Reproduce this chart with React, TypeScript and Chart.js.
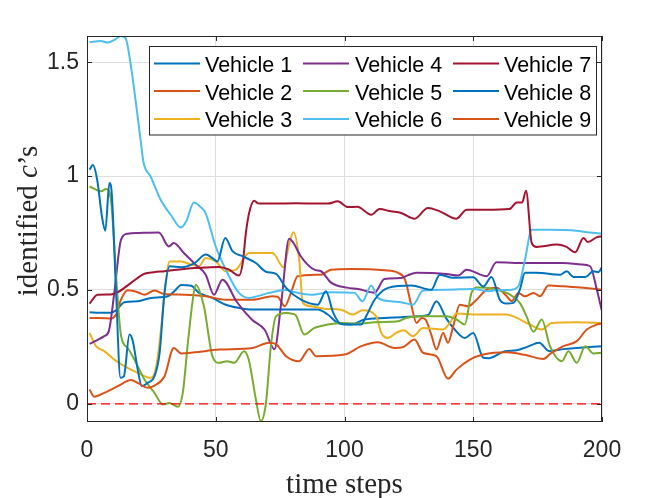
import { useEffect, useRef } from 'react';
import { Chart, registerables } from 'chart.js';

Chart.register(...registerables);

type Pt = [number, number];

// [time step, identified c]
const vehicle1: Pt[] = [
  [1, 0.402], [5, 0.4], [9.3, 0.4], [11.3, 0.41], [14.5, 0.446], [19.7, 0.45], [24.9, 0.465],
  [31.4, 0.472], [34, 0.495], [36.6, 0.522], [40.5, 0.518], [43.5, 0.487], [48.7, 0.465],
  [53.9, 0.435], [59, 0.421], [64.3, 0.414], [72, 0.414], [81, 0.414], [89.6, 0.414],
  [93.5, 0.392], [97.4, 0.355], [102.6, 0.348], [107.8, 0.37], [115.5, 0.377], [122, 0.38],
  [128.6, 0.384], [132.5, 0.39], [135.7, 0.45], [139.5, 0.375], [142.8, 0.326], [146.7, 0.289],
  [150, 0.311], [153.9, 0.202], [156, 0.2], [162.3, 0.231], [166.9, 0.235], [171, 0.25],
  [175.6, 0.268], [179.5, 0.231], [185, 0.24], [190, 0.245], [200, 0.253],
];
const vehicle2: Pt[] = [
  [1, 0.377], [9.3, 0.375], [11.3, 0.392], [13.2, 0.457], [15.8, 0.498], [19.7, 0.49],
  [22.3, 0.479], [26.2, 0.497], [30.1, 0.482], [38, 0.479], [46.1, 0.472], [53.9, 0.457],
  [64.3, 0.457], [72.1, 0.472], [74, 0.47], [76.8, 0.428], [79.2, 0.487], [81.8, 0.56],
  [90.9, 0.567], [94.8, 0.589], [102.6, 0.592], [115.5, 0.586], [120.8, 0.575], [123.5, 0.545],
  [126, 0.43], [128, 0.355], [130, 0.377], [131.5, 0.37], [133.7, 0.304], [135.7, 0.238],
  [138.3, 0.311], [140.2, 0.268], [142.2, 0.34], [144.8, 0.435], [148, 0.428], [151.3, 0.457],
  [155.2, 0.501], [159, 0.509], [163, 0.472], [164.9, 0.45], [167.5, 0.487], [170.1, 0.472],
  [173.4, 0.487], [175.9, 0.472], [179.2, 0.519], [185, 0.516], [192.8, 0.509], [200, 0.501],
];
const vehicle3: Pt[] = [
  [1, 0.311], [3.5, 0.253], [6.7, 0.231], [10.6, 0.194], [14.5, 0.165], [19.7, 0.136],
  [24.9, 0.114], [26.9, 0.165], [28.5, 0.3], [30.1, 0.487], [32.1, 0.625], [36.6, 0.625],
  [40.5, 0.611], [43.5, 0.604], [46.1, 0.64], [50, 0.625], [53.9, 0.582], [57.8, 0.589],
  [63, 0.662], [72.1, 0.662], [76.3, 0.6], [78.5, 0.7], [80.2, 0.753], [82.4, 0.633],
  [83.8, 0.443], [87, 0.428], [92.2, 0.417], [98.7, 0.413], [103.2, 0.392], [107.1, 0.411],
  [112.3, 0.384], [114.3, 0.311], [116.9, 0.289], [120, 0.311], [123, 0.323], [126.6, 0.297],
  [130.5, 0.333], [138.3, 0.326], [140.9, 0.355], [143.5, 0.396], [150, 0.392], [163, 0.392],
  [165.6, 0.384], [172, 0.348], [176.6, 0.326], [180.5, 0.355], [190, 0.358], [200, 0.355],
];
const vehicle4: Pt[] = [
  [1, 0.263], [4, 0.28], [6.7, 0.297], [8.5, 0.32], [10.6, 0.487], [13.2, 0.72], [15.8, 0.747],
  [20, 0.75], [27.9, 0.752], [31.8, 0.691], [33.7, 0.706], [37.6, 0.662], [42.2, 0.611],
  [46.1, 0.567], [49.3, 0.479], [52.6, 0.545], [58.2, 0.447], [64, 0.37], [69, 0.325],
  [72.8, 0.24], [75.5, 0.45], [78.5, 0.725], [80, 0.71], [83, 0.648], [88.3, 0.589],
  [90.9, 0.582], [94.8, 0.532], [101, 0.51], [105.2, 0.504], [111.7, 0.488], [115.5, 0.548],
  [122, 0.552], [124.7, 0.565], [127.9, 0.575], [139.6, 0.57], [144.1, 0.563], [147.4, 0.589],
  [155.2, 0.56], [159, 0.621], [170, 0.618], [185, 0.618], [192, 0.612], [195.4, 0.604],
  [198, 0.501], [200, 0.406],
];
const vehicle5: Pt[] = [
  [1, 0.954], [5.5, 0.933], [7.4, 0.943], [9.3, 0.896], [11.3, 0.56], [13.2, 0.3], [15.8, 0.245],
  [18.4, 0.194], [22.3, 0.107], [26.2, 0.048], [29.5, -0.003], [32, 0.003], [35.3, -0.013],
  [37.2, 0.048], [39.2, 0.27], [41, 0.45], [42.2, 0.523], [45.4, 0.428], [48.7, 0.209],
  [51.3, 0.18], [54.5, 0.187], [57.2, 0.18], [61, 0.231], [62.8, 0.194], [65.6, 0.019],
  [67.5, -0.076], [69.5, 0.004], [71.4, 0.253], [73.4, 0.384], [77.3, 0.399], [79.2, 0.396],
  [81, 0.39], [84.4, 0.304], [88.3, 0.333], [93.5, 0.348], [98.7, 0.355], [105.2, 0.352],
  [111.7, 0.358], [118.2, 0.36], [120.8, 0.362], [124, 0.377], [130.5, 0.384], [139.6, 0.384],
  [143.5, 0.37], [146.7, 0.348], [149.3, 0.487], [151.3, 0.511], [155.2, 0.51], [159, 0.501],
  [164.3, 0.479], [168.1, 0.443], [170.7, 0.384], [173.4, 0.316], [176.6, 0.37], [179.8, 0.253],
  [184.4, 0.187], [187, 0.231], [190.2, 0.18], [193.5, 0.253], [196.7, 0.221], [200, 0.224],
];
const vehicle6: Pt[] = [
  [1, 1.588], [5.2, 1.593], [8, 1.586], [11, 1.6], [13, 1.615], [15, 1.605], [16.9, 1.495],
  [19.5, 1.276], [20.8, 1.159], [22, 1.057], [24.7, 0.998], [28.6, 0.896], [32.5, 0.83],
  [36.5, 0.774], [38.5, 0.8], [41.5, 0.884], [44, 0.865], [46, 0.838], [50, 0.69], [53.9, 0.589],
  [59, 0.487], [63, 0.465], [67, 0.475], [70.7, 0.487], [77.3, 0.5], [80, 0.492], [87, 0.479],
  [94.8, 0.49], [103.9, 0.487], [107, 0.45], [110.4, 0.519], [113, 0.465], [118, 0.45],
  [122, 0.446], [126.6, 0.435], [130.5, 0.497], [139.6, 0.501], [150, 0.504], [155.8, 0.494],
  [160, 0.5], [164, 0.5], [167.5, 0.516], [170.1, 0.633], [172.7, 0.764], [180, 0.764],
  [190, 0.76], [195, 0.752], [200, 0.747],
];
const vehicle7: Pt[] = [
  [1, 0.44], [4.1, 0.479], [9.3, 0.48], [12, 0.49], [17.1, 0.531], [22.3, 0.571], [26, 0.578],
  [30.1, 0.582], [36, 0.59], [41.8, 0.596], [46, 0.598], [51.3, 0.601], [55, 0.59], [59, 0.563],
  [60.5, 0.62], [61.7, 0.75], [63, 0.84], [64.9, 0.892], [66.5, 0.88], [68.2, 0.879],
  [81.1, 0.881], [93.5, 0.879], [97.4, 0.889], [101.3, 0.864], [105, 0.865], [110.4, 0.83],
  [113.6, 0.855], [118, 0.845], [122, 0.838], [127.2, 0.813], [132.4, 0.86], [137, 0.845],
  [143.5, 0.813], [147.4, 0.852], [155, 0.852], [164, 0.855], [166.9, 0.884], [169, 0.884],
  [170.5, 0.936], [172.7, 0.706], [174.6, 0.689], [182.4, 0.699], [186, 0.69], [189.6, 0.665],
  [192.8, 0.728], [194.5, 0.71], [198, 0.732], [200, 0.735],
];
const vehicle8: Pt[] = [
  [1, 1.028], [2.3, 1.048], [4, 0.98], [5.8, 0.823], [7.1, 0.76], [8.7, 0.969], [9.6, 0.925],
  [11.3, 0.487], [13, 0.114], [14.3, 0.12], [16.5, 0.304], [17.8, 0.275], [19.7, 0.15],
  [21.3, 0.077], [23.6, 0.092], [26.2, 0.121], [28.2, 0.224], [30.1, 0.487], [32.1, 0.604],
  [36.6, 0.6], [41.8, 0.618], [46.1, 0.655], [48.7, 0.64], [50.6, 0.625], [53.7, 0.728],
  [56.5, 0.67], [60.4, 0.648], [65.6, 0.618], [69.5, 0.58], [73.4, 0.57], [77.3, 0.509],
  [83.1, 0.457], [89.6, 0.435], [92.8, 0.494], [95.6, 0.4], [98.7, 0.35], [106.5, 0.348],
  [108.4, 0.384], [111.7, 0.457], [116.9, 0.509], [126, 0.519], [133.7, 0.501], [137, 0.567],
  [142.2, 0.553], [150, 0.556], [153.9, 0.515], [157.1, 0.557], [160.3, 0.457], [163, 0.44],
  [165.6, 0.443], [168.1, 0.501], [170.1, 0.575], [174.6, 0.575], [183.7, 0.567], [186.3, 0.582],
  [188.9, 0.557], [193.5, 0.557], [196.7, 0.582], [198.6, 0.578], [200, 0.6],
];
const vehicle9: Pt[] = [
  [1, 0.063], [2.8, 0.031], [6.7, 0.048], [11.9, 0.077], [17.1, 0.104], [19.7, 0.092],
  [23.6, 0.07], [26.2, 0.08], [30.1, 0.121], [33.7, 0.245], [36.6, 0.221], [41.8, 0.226],
  [51.3, 0.238], [64.3, 0.245], [70.7, 0.268], [73.4, 0.262], [77.3, 0.209], [82.4, 0.187],
  [86.3, 0.241], [88.9, 0.209], [100, 0.216], [106.5, 0.253], [113, 0.27], [119.4, 0.245],
  [123, 0.25], [127.2, 0.282], [130.5, 0.224], [135.7, 0.209], [140.2, 0.11], [143.5, 0.15],
  [148.7, 0.194], [153.9, 0.216], [163, 0.226], [170, 0.215], [177.2, 0.197], [180, 0.22],
  [185, 0.253], [190.2, 0.275], [194.1, 0.326], [198, 0.348], [200, 0.352],
];
const zeroLine: Pt[] = [[0, 0], [200, 0]];

const vehicles = [vehicle1, vehicle2, vehicle3, vehicle4, vehicle5, vehicle6, vehicle7, vehicle8, vehicle9];
const vehicleNames = ['Vehicle 1', 'Vehicle 2', 'Vehicle 3', 'Vehicle 4', 'Vehicle 5', 'Vehicle 6', 'Vehicle 7', 'Vehicle 8', 'Vehicle 9'];
const vehicleColors = ['#0072BD', '#D95319', '#EDB120', '#7E2F8E', '#77AC30', '#4DBEEE', '#A2142F', '#0072BD', '#D95319'];

const xTicks = [0, 50, 100, 150, 200];
const yTicks = [0, 0.5, 1, 1.5];
const yMin = -0.08;
const yMax = 1.615;

const AXIS = '#262626';
const SANS = '"Liberation Sans", Arial, sans-serif';
const SERIF = '"Liberation Serif", "Times New Roman", serif';

const decor = {
  id: 'decor',
  afterDatasetsDraw(chart: Chart) {
    const { ctx, chartArea: a } = chart;
    const sx = chart.scales.x;
    const sy = chart.scales.y;
    ctx.save();
    ctx.strokeStyle = AXIS;
    ctx.lineWidth = 1;
    ctx.beginPath();
    xTicks.forEach((v) => {
      const p = Math.round(sx.getPixelForValue(v)) + 0.5;
      ctx.moveTo(p, a.bottom); ctx.lineTo(p, a.bottom - 5);
      ctx.moveTo(p, a.top); ctx.lineTo(p, a.top + 5);
    });
    yTicks.forEach((v) => {
      const p = Math.round(sy.getPixelForValue(v)) + 0.5;
      ctx.moveTo(a.left, p); ctx.lineTo(a.left + 5, p);
      ctx.moveTo(a.right, p); ctx.lineTo(a.right - 5, p);
    });
    ctx.stroke();
    ctx.strokeRect(Math.round(a.left) + 0.5, Math.round(a.top) + 0.5,
      Math.round(a.right - a.left) - 1, Math.round(a.bottom - a.top) - 1);
    ctx.restore();
  },
  afterDraw(chart: Chart) {
    const { ctx, chartArea: a } = chart;
    ctx.save();

    // legend, three columns of three
    ctx.fillStyle = '#ffffff';
    ctx.fillRect(149.5, 46.5, 447, 88.5);
    ctx.strokeStyle = AXIS;
    ctx.lineWidth = 1;
    ctx.strokeRect(149.5, 46.5, 447, 88.5);
    const colLine = [154, 303, 453];
    const colText = [205, 355, 504];
    const rowLine = [63.5, 91, 119];
    const rowBase = [72, 99.5, 127.3];
    ctx.font = `21.5px ${SANS}`;
    ctx.textAlign = 'left';
    ctx.textBaseline = 'alphabetic';
    vehicleNames.forEach((name, i) => {
      const c = Math.floor(i / 3);
      const r = i % 3;
      ctx.strokeStyle = vehicleColors[i];
      ctx.lineWidth = 2;
      ctx.beginPath();
      ctx.moveTo(colLine[c], rowLine[r]);
      ctx.lineTo(colLine[c] + 46, rowLine[r]);
      ctx.stroke();
      ctx.fillStyle = '#000000';
      ctx.fillText(name, colText[c], rowBase[r]);
    });

    // axis titles
    ctx.fillStyle = AXIS;
    ctx.font = `29px ${SERIF}`;
    ctx.textAlign = 'center';
    ctx.fillText('time steps', (a.left + a.right) / 2, 493);

    const parts = [
      { t: 'identified ', f: `29px ${SERIF}` },
      { t: 'c', f: `italic 29px ${SERIF}` },
      { t: '\u2019s', f: `29px ${SERIF}` },
    ];
    let total = 0;
    parts.forEach((p) => { ctx.font = p.f; total += ctx.measureText(p.t).width; });
    ctx.translate(37, 221);
    ctx.rotate(-Math.PI / 2);
    ctx.textAlign = 'left';
    let x = -total / 2;
    parts.forEach((p) => { ctx.font = p.f; ctx.fillText(p.t, x, 0); x += ctx.measureText(p.t).width; });
    ctx.restore();
  },
};

export default function App() {
  const canvasRef = useRef<HTMLCanvasElement>(null);
  const chartRef = useRef<Chart | null>(null);

  useEffect(() => {
    document.body.style.margin = '0';
    if (!canvasRef.current) return;
    const ctx = canvasRef.current.getContext('2d');
    if (!ctx) return;

    const datasets: any[] = vehicles.map((pts, i) => ({
      label: vehicleNames[i],
      data: pts.map(([t, y]) => ({ x: t, y })),
      borderColor: vehicleColors[i],
      borderWidth: 2,
      pointRadius: 0,
      cubicInterpolationMode: 'monotone',
      order: vehicles.length - i,
    }));
    datasets.push({
      label: 'zero',
      data: zeroLine.map(([t, y]) => ({ x: t, y })),
      borderColor: '#FF0000',
      borderWidth: 1.2,
      borderDash: [9, 5],
      pointRadius: 0,
      order: 0,
    });

    chartRef.current?.destroy();
    chartRef.current = new Chart(ctx, {
      type: 'line',
      data: { datasets },
      options: {
        responsive: false,
        animation: false,
        devicePixelRatio: 1,
        layout: { padding: { top: 36, right: 62, left: 0, bottom: 0 } },
        plugins: { legend: { display: false }, tooltip: { enabled: false } },
        scales: {
          x: {
            type: 'linear',
            min: 0,
            max: 200,
            afterFit: (s: any) => { s.height = 76; },
            afterBuildTicks: (s: any) => { s.ticks = xTicks.map((v) => ({ value: v })); },
            ticks: { color: AXIS, font: { family: SANS, size: 23 }, padding: 15, maxRotation: 0, callback: (v: any) => String(v) },
            grid: { color: '#dedede', drawTicks: false },
            border: { display: false },
          },
          y: {
            type: 'linear',
            min: yMin,
            max: yMax,
            afterFit: (s: any) => { s.width = 87; },
            afterBuildTicks: (s: any) => { s.ticks = yTicks.map((v) => ({ value: v })); },
            ticks: { color: AXIS, font: { family: SANS, size: 23 }, padding: 8, callback: (v: any) => String(v) },
            grid: { color: '#dedede', drawTicks: false },
            border: { display: false },
          },
        },
      },
      plugins: [decor as any],
    });

    return () => { chartRef.current?.destroy(); chartRef.current = null; };
  }, []);

  return <canvas ref={canvasRef} width={664} height={498} />;
}
